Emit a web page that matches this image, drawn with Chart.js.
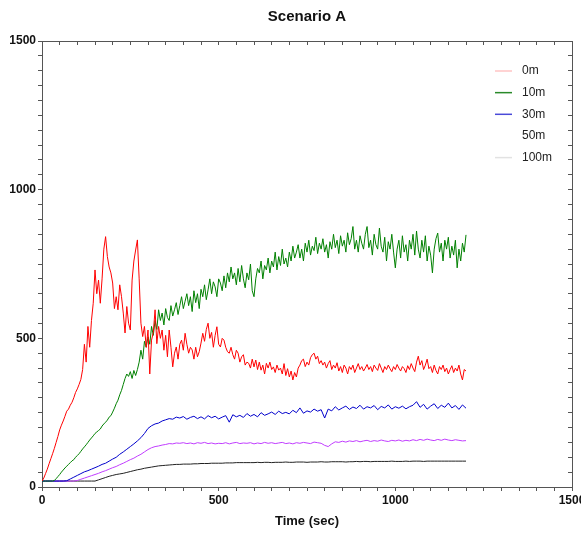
<!DOCTYPE html>
<html>
<head>
<meta charset="utf-8">
<script src="https://cdn.jsdelivr.net/npm/chart.js@4/dist/chart.umd.min.js"></script>
<style>
  html, body { margin: 0; padding: 0; background: #ffffff; }
  #wrap { width: 581px; height: 533px; position: relative; }
</style>
</head>
<body>
<div id="wrap"><canvas id="c" width="581" height="533"></canvas></div>
<script>
// ---- Data ----
const chartTitle = 'Scenario A';
const xAxisTitle = 'Time (sec)';
const seriesLabels = ['0m', '10m', '30m', '50m', '100m'];
const majorTickLabels = [0, 500, 1000, 1500];

// sample times (seconds)
const timeSec5 = Array.from({length: 241}, (_, i) => i * 5);
const timeSec10 = Array.from({length: 121}, (_, i) => i * 10);

// 0m (every 5 s)
const series0m = [
  20,30,45,60,78,95,112,130,150,170,192,208,222,238,255,262,275,285,300,318,
  330,345,362,395,480,420,540,470,560,618,730,650,696,618,700,800,842,775,740,720,
  686,600,640,596,680,640,585,518,607,551,528,696,760,797,831,700,551,506,540,470,
  528,380,494,520,596,482,540,500,528,460,510,438,528,470,404,450,471,430,480,494,
  460,517,480,450,470,461,430,470,438,455,484,517,490,530,551,500,520,470,510,539,
  480,471,500,494,470,455,450,470,445,430,460,450,420,438,445,410,420,416,400,430,
  404,427,395,420,393,410,380,416,400,420,395,404,385,410,393,400,380,415,375,398,
  370,390,360,385,370,400,410,425,430,405,420,410,435,445,450,430,440,415,425,410,
  420,400,415,425,395,410,400,418,390,405,385,410,400,380,405,395,410,385,400,415,
  395,405,390,400,412,395,405,388,410,400,392,415,400,385,405,395,410,398,388,405,
  395,412,400,390,405,398,385,408,395,415,400,388,420,440,410,425,395,410,430,398,
  405,385,410,392,380,405,395,410,388,400,380,395,408,385,400,390,410,380,360,395,
  390
];

// 10m (every 5 s)
const series10m = [
  20,20,20,20,20,20,20,22,28,35,42,50,57,64,70,76,82,88,92,100,
  106,112,120,128,135,142,150,158,165,172,180,185,190,195,205,212,218,225,235,240,
  252,265,280,292,310,325,345,365,380,372,388,365,392,375,395,420,460,430,490,470,
  505,480,540,510,560,530,596,560,585,545,600,570,560,610,575,596,620,580,610,640,
  600,625,650,610,640,590,660,620,650,600,665,640,680,630,663,700,650,690,673,640,
  700,686,660,710,670,720,690,740,700,720,680,735,690,745,700,670,720,697,750,660,
  640,700,735,720,760,700,745,730,770,720,760,740,790,730,775,745,800,750,770,740,
  790,760,810,770,790,815,770,800,760,820,790,830,780,810,795,840,785,820,800,835,
  790,815,770,825,800,850,805,830,785,845,810,830,790,855,815,835,876,800,830,790,
  845,820,800,850,876,805,830,780,850,815,800,871,810,790,840,760,825,800,850,790,
  737,800,830,770,845,790,815,760,830,800,850,780,861,800,770,830,790,845,760,810,
  780,720,800,835,854,790,820,760,830,800,840,770,810,780,830,737,800,760,820,790,
  848
];

// 30m (every 10 s)
const series30m = [
  20,20,20,20,20,20,20,21,27,33,
  39,45,51,55,60,65,70,76,80,87,
  94,100,110,118,127,136,145,155,166,180,
  197,206,212,215,222,226,230,228,235,232,
  237,228,234,238,230,236,229,240,233,238,
  229,235,240,218,243,236,241,234,247,238,
  244,236,250,241,246,252,244,255,247,251,
  246,258,250,266,248,256,252,262,255,260,
  232,262,256,270,259,266,272,261,269,264,
  275,262,270,266,274,260,271,266,276,262,
  270,265,272,263,270,275,287,268,278,262,
  272,280,264,275,268,282,266,274,261,276,
  265
];

// 50m (every 10 s)
const series50m = [
  20,20,20,20,20,20,20,20,20,20,
  22,26,30,34,38,42,46,51,55,60,
  65,69,75,80,86,92,97,104,110,118,
  126,132,136,138,141,143,146,145,148,147,
  149,146,148,145,149,147,150,146,148,145,
  147,146,149,145,148,150,146,148,147,149,
  145,148,146,150,147,149,146,148,150,146,
  148,145,149,147,150,148,146,151,149,147,
  140,136,145,152,150,154,151,155,153,156,
  152,155,157,153,156,154,158,155,153,157,
  155,158,154,157,155,159,156,160,157,161,
  158,156,160,157,161,158,156,159,157,155,
  156
];

// 100m (every 10 s)
const series100m = [
  20,20,20,20,20,20,20,20,20,20,
  20,20,20,20,20,20,24,28,32,36,
  39,42,44,46,49,52,55,58,60,63,
  65,67,69,71,72,73,74,75,76,76,
  77,77,77,78,78,79,79,79,80,80,
  80,80,81,81,81,82,82,82,82,82,
  82,83,82,83,83,82,83,83,83,84,
  83,83,84,84,84,83,84,84,84,85,
  84,84,85,85,85,85,84,85,85,86,
  85,86,86,85,86,86,86,86,86,87,
  86,86,86,87,86,87,87,87,86,87,
  87,87,87,87,87,87,87,87,87,87,
  87
];

// ---- Styles ----
const lineColors = ['#ff0000', '#008000', '#0000cc', '#c03cff', '#222222'];
const legendColors = ['#ffc4c4', '#2a8a2a', '#4a4ad8', '#ffffff', '#e2e2e2'];

const toPoints = (times, vals) => vals.map((v, i) => ({x: times[i], y: v}));

const seriesData = [
  toPoints(timeSec5, series0m),
  toPoints(timeSec5, series10m),
  toPoints(timeSec10, series30m),
  toPoints(timeSec10, series50m),
  toPoints(timeSec10, series100m)
];

Chart.defaults.font.family = '"Liberation Sans", Arial, Helvetica, sans-serif';
Chart.defaults.color = '#111';

const axisColor = '#555';

const insideLegend = {
  id: 'insideLegend',
  afterDraw(chart) {
    const {ctx, chartArea} = chart;
    ctx.save();
    ctx.font = '12px "Liberation Sans", Arial, sans-serif';
    ctx.textBaseline = 'middle';
    ctx.textAlign = 'left';
    seriesLabels.forEach((lab, i) => {
      const y = chartArea.top + 30 + i * 21.65;
      const x0 = chartArea.right - 77;
      ctx.strokeStyle = legendColors[i];
      ctx.lineWidth = 1.5;
      ctx.beginPath();
      ctx.moveTo(x0, y);
      ctx.lineTo(x0 + 17, y);
      ctx.stroke();
      ctx.fillStyle = '#222';
      ctx.fillText(lab, x0 + 27, y);
    });
    ctx.restore();
  }
};

const majorCb = (v) => (majorTickLabels.includes(v) ? String(v) : '');

new Chart(document.getElementById('c'), {
  type: 'line',
  data: {
    datasets: seriesLabels.map((lab, i) => ({
      label: lab,
      data: seriesData[i],
      borderColor: lineColors[i],
      backgroundColor: lineColors[i],
      borderWidth: 1,
      pointRadius: 0,
      tension: 0,
      fill: false
    }))
  },
  options: {
    responsive: false,
    animation: false,
    events: [],
    layout: { padding: { left: 0, right: 9, top: 0, bottom: 0 } },
    plugins: {
      legend: { display: false },
      tooltip: { enabled: false },
      title: {
        display: true,
        text: chartTitle,
        fullSize: false,
        font: { size: 15, weight: 'bold', lineHeight: 1.2 },
        color: '#111',
        padding: { top: 8, bottom: 15 }
      }
    },
    scales: {
      x: {
        type: 'linear',
        position: 'bottom',
        min: 0, max: 1500,
        grid: { drawOnChartArea: false, color: axisColor, tickLength: 4, tickWidth: 1 },
        border: { color: axisColor, width: 1 },
        ticks: {
          stepSize: 50, autoSkip: false, maxRotation: 0, minRotation: 0,
          padding: 2, callback: majorCb,
          font: { size: 12, weight: 'bold' }, color: '#111'
        },
        title: {
          display: true, text: xAxisTitle,
          font: { size: 13, weight: 'bold', lineHeight: 1.2 }, color: '#111',
          padding: { top: 0, bottom: 4 }
        },
        afterFit(s) { s.height = 46; s.paddingLeft = 0; s.paddingRight = 0; }
      },
      xTop: {
        type: 'linear',
        position: 'top',
        min: 0, max: 1500,
        grid: { drawOnChartArea: false, color: axisColor, tickLength: -4, tickWidth: 1 },
        border: { color: axisColor, width: 1 },
        ticks: { stepSize: 50, autoSkip: false, maxRotation: 0, minRotation: 0, display: false },
        afterFit(s) { s.height = 0; s.paddingLeft = 0; s.paddingRight = 0; }
      },
      y: {
        type: 'linear',
        position: 'left',
        min: 0, max: 1500,
        grid: { drawOnChartArea: false, color: axisColor, tickLength: 4, tickWidth: 1 },
        border: { color: axisColor, width: 1 },
        ticks: {
          stepSize: 50, autoSkip: false, padding: 2, callback: majorCb,
          font: { size: 12, weight: 'bold' }, color: '#111'
        },
        afterFit(s) { s.width = 42; s.paddingTop = 0; s.paddingBottom = 0; }
      },
      yRight: {
        type: 'linear',
        position: 'right',
        min: 0, max: 1500,
        grid: { drawOnChartArea: false, color: axisColor, tickLength: -4, tickWidth: 1 },
        border: { color: axisColor, width: 1 },
        ticks: { stepSize: 50, autoSkip: false, display: false },
        afterFit(s) { s.width = 0; s.paddingTop = 0; s.paddingBottom = 0; }
      }
    }
  },
  plugins: [insideLegend]
});
</script>
</body>
</html>
